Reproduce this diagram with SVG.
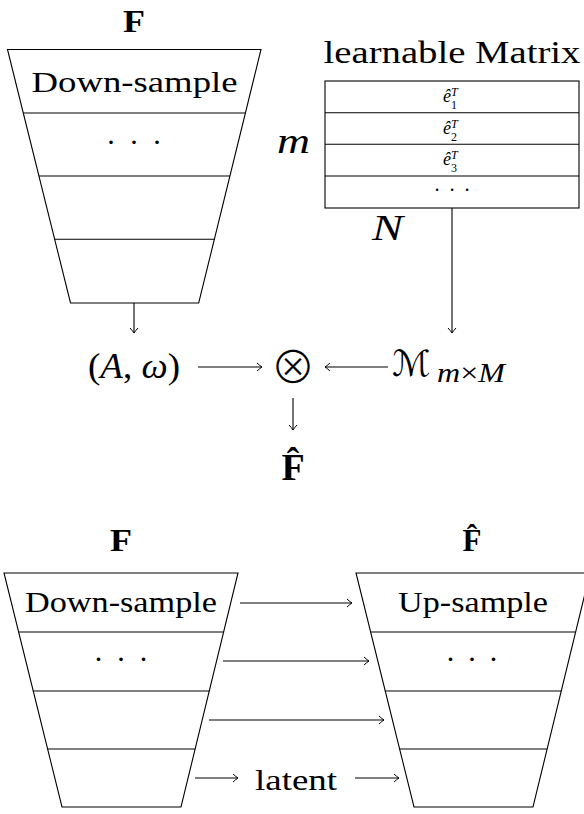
<svg xmlns="http://www.w3.org/2000/svg" width="584" height="814" viewBox="0 0 584 814">
<style>
.s{fill:none;stroke:#000;stroke-width:1.1}
.t{font-family:"Liberation Serif","Times New Roman",serif;fill:#000}
.b{font-weight:bold}
.i{font-style:italic}
.c{text-anchor:middle}
.a{fill:none;stroke:#000;stroke-width:1.1;marker-end:url(#ah)}
</style>
<defs>
<marker id="ah" markerUnits="userSpaceOnUse" viewBox="-7 -5 8 10" refX="0" refY="0" markerWidth="8" markerHeight="10" orient="auto" overflow="visible">
<path d="M-5,-4 Q-2,-1.2 0,0 Q-2,1.2 -5,4" fill="none" stroke="#000" stroke-width="1"/>
</marker>
</defs>

<g id="encoder-top">
<text class="t b c" x="134" y="32" font-size="31" textLength="22" lengthAdjust="spacingAndGlyphs">F</text>
<polygon class="s" points="7.5,49.5 261,49.5 198.7,303 70.5,303"/>
<line class="s" x1="23.3" y1="113" x2="245.5" y2="113"/>
<line class="s" x1="38.9" y1="176" x2="230" y2="176"/>
<line class="s" x1="54.6" y1="239.3" x2="214.5" y2="239.3"/>
<text class="t c" x="134.5" y="92" font-size="30" textLength="206" lengthAdjust="spacingAndGlyphs">Down-sample</text>
<text class="t c" x="111 134 157" y="152" font-size="30">···</text>
</g>

<g id="matrix">
<text class="t c" x="452" y="63" font-size="31" textLength="257" lengthAdjust="spacingAndGlyphs">learnable Matrix</text>
<rect class="s" x="325" y="81" width="254" height="127"/>
<line class="s" x1="325" y1="112.7" x2="579" y2="112.7"/>
<line class="s" x1="325" y1="144.3" x2="579" y2="144.3"/>
<line class="s" x1="325" y1="176" x2="579" y2="176"/>
<text class="t" x="443" y="102" font-size="18"><tspan class="i">ê</tspan><tspan font-size="12" dy="7">1</tspan><tspan class="i" font-size="12" dx="-6" dy="-13">T</tspan></text>
<text class="t" x="443" y="133.7" font-size="18"><tspan class="i">ê</tspan><tspan font-size="12" dy="7">2</tspan><tspan class="i" font-size="12" dx="-6" dy="-13">T</tspan></text>
<text class="t" x="443" y="165.3" font-size="18"><tspan class="i">ê</tspan><tspan font-size="12" dy="7">3</tspan><tspan class="i" font-size="12" dx="-6" dy="-13">T</tspan></text>
<text class="t c" x="437 452 467" y="197" font-size="20">···</text>
<text class="t i" x="277" y="153" font-size="36" textLength="33" lengthAdjust="spacingAndGlyphs">m</text>
<text class="t i" x="372" y="240" font-size="36" textLength="31" lengthAdjust="spacingAndGlyphs">N</text>
</g>

<g id="aw">
<text class="t" x="88" y="378" font-size="36" textLength="92" lengthAdjust="spacingAndGlyphs">(<tspan class="i">A</tspan>, <tspan class="i">ω</tspan>)</text>
</g>

<g id="otimes">
<text class="c" x="293" y="384" font-size="45" font-weight="300" style="font-family:'Noto Sans CJK JP','DejaVu Serif',sans-serif">⊗</text>
</g>

<g id="M">
<text x="392" y="376" font-size="36" style="font-family:'DejaVu Serif','DejaVu Sans',serif;font-style:italic">ℳ</text>
<text class="t i" x="437" y="382" font-size="28" textLength="68" lengthAdjust="spacingAndGlyphs">m<tspan font-style="normal">×</tspan>M</text>
</g>

<g id="Fhat-mid">
<text class="t b c" x="293" y="480" font-size="38">F̂</text>
</g>

<g id="encoder-bottom">
<text class="t b c" x="121" y="551" font-size="31" textLength="22" lengthAdjust="spacingAndGlyphs">F</text>
<polygon class="s" points="4,573 238,573 181,807 62,807"/>
<line class="s" x1="18.4" y1="632" x2="223.6" y2="632"/>
<line class="s" x1="32.8" y1="691" x2="209.3" y2="691"/>
<line class="s" x1="47.1" y1="749" x2="195.1" y2="749"/>
<text class="t c" x="121" y="612" font-size="30" textLength="192" lengthAdjust="spacingAndGlyphs">Down-sample</text>
<text class="t c" x="98.5 121 143.5" y="669" font-size="30">···</text>
</g>

<g id="decoder">
<text class="t b c" x="472" y="551" font-size="31">F̂</text>
<polygon class="s" points="356,573 590,573 533,807 414,807"/>
<line class="s" x1="370.4" y1="632" x2="575.6" y2="632"/>
<line class="s" x1="384.8" y1="691" x2="561.3" y2="691"/>
<line class="s" x1="399.1" y1="749" x2="547.1" y2="749"/>
<text class="t c" x="473" y="612" font-size="30" textLength="150" lengthAdjust="spacingAndGlyphs">Up-sample</text>
<text class="t c" x="450.5 472 493.5" y="669" font-size="30">···</text>
</g>

<g id="latent">
<text class="t" x="255" y="790" font-size="30" textLength="82" lengthAdjust="spacingAndGlyphs">latent</text>
</g>

<g id="connectors">
<line class="a" x1="134" y1="303" x2="134" y2="333"/>
<line class="a" x1="452" y1="208" x2="452" y2="333"/>
<line class="a" x1="198" y1="367" x2="262" y2="367"/>
<line class="a" x1="388" y1="367" x2="325" y2="367"/>
<line class="a" x1="293" y1="398" x2="293" y2="430"/>
<line class="a" x1="240" y1="603" x2="352" y2="603"/>
<line class="a" x1="223" y1="661" x2="369" y2="661"/>
<line class="a" x1="209" y1="720" x2="384" y2="720"/>
<line class="a" x1="195" y1="778" x2="238" y2="778"/>
<line class="a" x1="355" y1="778" x2="399" y2="778"/>
</g>
</svg>
